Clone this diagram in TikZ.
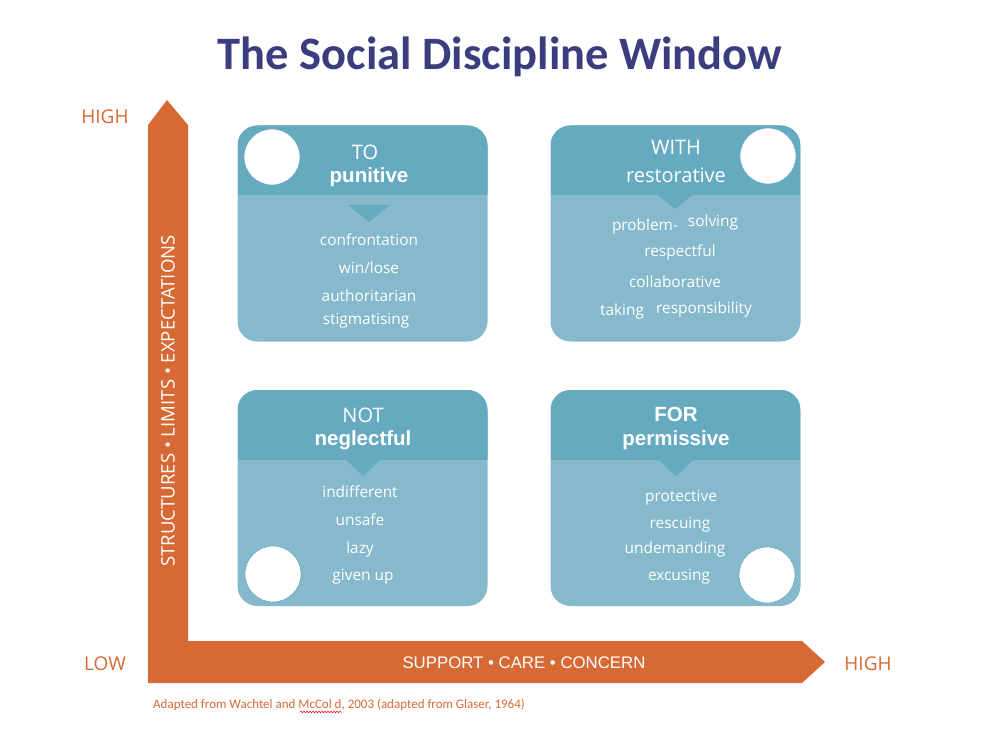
\documentclass[tikz,border=0pt]{standalone}
\usepackage{fontspec}
\setmainfont{Open Sans}
\newfontfamily\titlefont{Carlito}
\newfontfamily\boldsans{Liberation Sans}
\usetikzlibrary{positioning, decorations.pathmorphing}
\definecolor{headteal}{RGB}{102,170,191}
\definecolor{bodyteal}{RGB}{134,185,203}
\definecolor{axisorange}{RGB}{215,105,53}
\definecolor{titleblue}{RGB}{58,62,126}
\tikzset{quadbox/.style={rectangle, rounded corners=20pt, fill=bodyteal, inner sep=0pt, minimum width=250pt, minimum height=216pt,
    path picture={\fill[headteal, sharp corners] (path picture bounding box.north west) rectangle ([yshift=-70pt]path picture bounding box.north east);}},
  headtext/.style={text=white, font=\fontsize{20}{24}\selectfont},
  headbold/.style={text=white, font=\boldsans\bfseries\fontsize{20.5}{24}\selectfont},
  itemtext/.style={text=white, font=\fontsize{15.4}{18}\selectfont},
  axistext/.style={text=axisorange, font=\fontsize{19}{22}\selectfont},
  emptycircle/.style={circle, fill=white, draw=headteal, line width=0.6pt, minimum size=56pt, inner sep=0pt}}

\begin{document}
\begin{tikzpicture}[x=1pt, y=-1pt]
        \useasboundingbox (0,0) rectangle (1000,743);
        % Title
        \node[text=titleblue, font=\titlefont\bfseries\fontsize{46.5}{52}\selectfont] (title) at (500,57) {The Social Discipline Window};
        % Axes
        \fill[axisorange] (148,683) -- (148,125) -- (167,100) -- (188,125) -- (188,641) -- (802,641) -- (825,662) -- (802,683) -- cycle;
        \node[text=white, rotate=90, font=\fontsize{18.6}{22}\selectfont] (ylabel) at (168,401) {STRUCTURES • LIMITS • EXPECTATIONS};
        \node[text=white, font=\boldsans\fontsize{16.8}{20}\selectfont] (xlabel) at (524,663) {SUPPORT • CARE • CONCERN};
        \node[axistext] (yhigh) at (105,117) {HIGH};
        \node[axistext] (low) at (105,664) {LOW};
        \node[axistext] (xhigh) at (868,664) {HIGH};
        % Quadrants
        \foreach \name/\cx/\cy in {to/362.5/233.5, with/675.5/233.5, not/362.5/498, for/675.5/498} {
            \node[quadbox] (\name) at (\cx,\cy) {};
        }
        % Pointers
        \fill[headteal] (348,205) -- (390,205) -- (369,222) -- cycle;
        \fill[headteal] (658,195) -- (692,195) -- (675,209) -- cycle;
        \fill[headteal] (346,460) -- (380,460) -- (363,476) -- cycle;
        \fill[headteal] (659,460) -- (693,460) -- (676,476) -- cycle;
        % Circles
        \node[emptycircle] (tocircle) at (272,157) {};
        \node[emptycircle] (withcircle) at (768,156) {};
        \node[emptycircle] (notcircle) at (273,574) {};
        \node[emptycircle] (forcircle) at (767,575) {};
        % Headings
        \node[headtext] (tohead) at (365,152) {TO};
        \node[headbold] (tosub) at (369,177) {punitive};
        \node[headtext] (withhead) at (676,147) {WITH};
        \node[headtext] (withsub) at (676,175) {restorative};
        \node[headtext] (nothead) at (363,415) {NOT};
        \node[headbold] (notsub) at (363,440) {neglectful};
        \node[headbold] (forhead) at (676,414) {FOR};
        \node[headbold] (forsub) at (676,440) {permissive};
        % Items
        \foreach \x/\y/\t in {369/240/confrontation, 369/268/{win/lose}, 369/296/authoritarian, 366/321/stigmatising,
            360/492/indifferent, 360/520/unsafe, 360/549/lazy, 363/577/given up,
            681/498/protective, 680/525/rescuing, 675/549/undemanding, 679/577/excusing,
            680/252/respectful, 675/282/collaborative} {
            \node[itemtext] at (\x,\y) {\t};
        }
        \node[itemtext] (problem) at (645,227) {problem-};
        \node[itemtext] (solving) at (713,223) {solving};
        \node[itemtext] (taking) at (622,311) {taking};
        \node[itemtext] (responsibility) at (704,309) {responsibility};
        % Source
        \node[anchor=west, text=axisorange, font=\titlefont\fontsize{13}{15}\selectfont, inner sep=0pt] (source) at (153,705) {Adapted from Wachtel and McCol d, 2003 (adapted from Glaser, 1964)};
        \draw[red, line width=0.5pt, decorate, decoration={snake, amplitude=0.8pt, segment length=3pt}] (300,712) -- (342,712);
    \end{tikzpicture}
\end{document}
